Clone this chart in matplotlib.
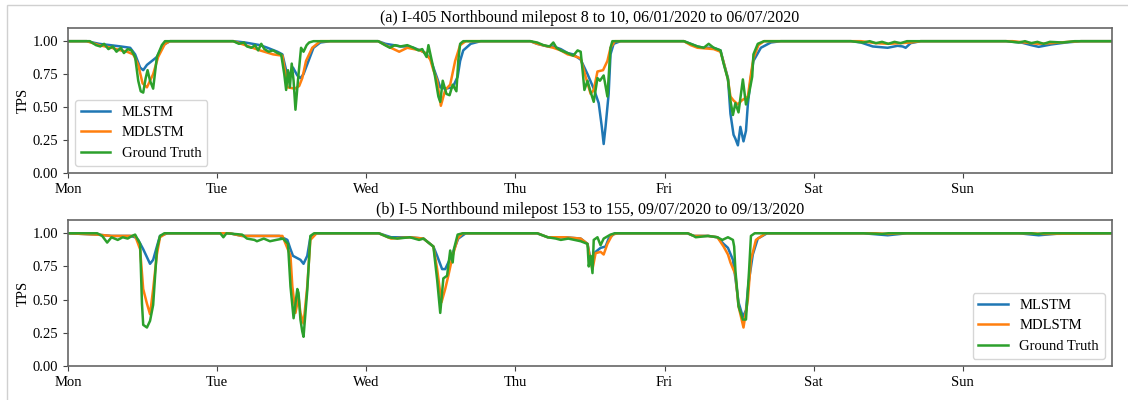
import matplotlib
matplotlib.use("Agg")
import matplotlib.pyplot as plt
from matplotlib.patches import Rectangle

plt.rcParams['font.family'] = ['Liberation Serif', 'DejaVu Serif']

# x axis: hours since Monday 00:00
day_labels = ['Mon', 'Tue', 'Wed', 'Thu', 'Fri', 'Sat', 'Sun']
day_hours = [0, 24, 48, 72, 96, 120, 144]
tps_ticks = [0.00, 0.25, 0.50, 0.75, 1.00]

titles = ['(a) I-405 Northbound milepost 8 to 10, 06/01/2020 to 06/07/2020',
          '(b) I-5 Northbound milepost 153 to 155, 09/07/2020 to 09/13/2020']

# ---- panel (a) ----
a_hours_mlstm = [0, 3.0, 5, 6.8, 8.5, 10, 10.8, 11.6, 12.1, 12.7, 13.5, 14.3, 15.3, 16.4,
                 26.6, 28.5, 30.9, 32.1, 33.7, 34.5, 35.0, 35.3, 35.8, 36.2, 36.9, 37.4, 37.9, 38.7, 39.5, 40.6, 42.2,
                 49.9, 51.1, 52.4, 53.5, 54.6, 55.6, 56.7, 57.5, 58.3, 58.8, 59.4, 59.9, 60.7, 61.9, 62.7, 63.1, 63.6, 64.8, 66.4,
                 74.4, 75.5, 77.2, 78.1, 79.3, 80.4, 81.3, 82.5, 83.6, 84.6, 85.4, 85.9, 86.2, 86.5, 87.0, 87.3, 87.8, 88.9,
                 99.1, 100.2, 101.3, 102.3, 103.9, 105.0, 105.5, 106.2, 106.6, 107.1, 107.4, 107.8, 108.2, 108.7, 109.1, 109.4, 109.9, 110.3, 111.5, 113.1, 114.7,
                 126.0, 127.6, 129.5, 131.9, 133.5, 134.3, 134.8, 135.6, 137.2,
                 150.9, 153.4, 155.0, 156.2, 158.2, 160.6, 163.0, 168]
a_tps_mlstm = [1.0, 1.0, 0.98, 0.97, 0.96, 0.95, 0.90, 0.80, 0.78, 0.82, 0.85, 0.88, 0.97, 1.0,
               1.0, 0.99, 0.97, 0.95, 0.92, 0.90, 0.80, 0.74, 0.76, 0.80, 0.74, 0.72, 0.75, 0.85, 0.95, 0.99, 1.0,
               1.0, 0.98, 0.97, 0.96, 0.96, 0.95, 0.93, 0.91, 0.87, 0.80, 0.72, 0.65, 0.64, 0.65, 0.73, 0.85, 0.93, 0.98, 1.0,
               1.0, 0.98, 0.96, 0.96, 0.94, 0.91, 0.90, 0.86, 0.75, 0.64, 0.53, 0.35, 0.22, 0.35, 0.60, 0.90, 0.98, 1.0,
               1.0, 0.98, 0.96, 0.95, 0.95, 0.93, 0.84, 0.72, 0.45, 0.29, 0.26, 0.21, 0.35, 0.24, 0.32, 0.52, 0.73, 0.85, 0.95, 0.99, 1.0,
               1.0, 0.99, 0.96, 0.95, 0.965, 0.96, 0.95, 0.985, 1.0,
               1.0, 0.99, 0.97, 0.957, 0.975, 0.99, 1.0, 1.0]

a_hours_mdlstm = [0, 3, 5, 7, 8.5, 9.5, 10.5, 11.3, 12.0, 12.7, 13.2, 13.7, 14.5, 15.6, 16.4,
                  26.6, 28.5, 30.9, 33.0, 34.5, 35.0, 35.3, 36.5, 37.2, 37.7, 38.3, 39.3, 40.6,
                  49.9, 51.5, 53.3, 54.6, 56.7, 57.5, 58.3, 58.8, 59.4, 60.0, 60.7, 61.5, 62.3, 63.1, 64.0,
                  74.4, 75.5, 77.2, 78.1, 79.3, 80.4, 81.3, 82.5, 83.3, 84.1, 84.6, 85.2, 86.1, 86.8, 87.3, 88.0,
                  99.1, 100.2, 101.3, 103.9, 105.0, 105.5, 106.2, 106.6, 107.1, 107.8, 108.4, 109.4, 109.9, 110.3, 111.1, 112.0,
                  127.6, 130.0, 132, 134, 135.6, 137.2,
                  152, 155, 156.2, 158.2, 161, 163, 168]
a_tps_mdlstm = [1.0, 1.0, 0.97, 0.95, 0.93, 0.92, 0.90, 0.82, 0.68, 0.65, 0.70, 0.75, 0.88, 0.98, 1.0,
                1.0, 0.97, 0.93, 0.90, 0.89, 0.75, 0.65, 0.64, 0.66, 0.72, 0.85, 0.95, 1.0,
                1.0, 0.96, 0.92, 0.95, 0.93, 0.91, 0.86, 0.78, 0.70, 0.51, 0.63, 0.67, 0.85, 0.97, 1.0,
                1.0, 0.98, 0.96, 0.95, 0.93, 0.90, 0.89, 0.87, 0.73, 0.60, 0.63, 0.77, 0.78, 0.85, 0.95, 1.0,
                1.0, 0.97, 0.95, 0.94, 0.92, 0.84, 0.71, 0.58, 0.55, 0.52, 0.55, 0.58, 0.75, 0.87, 0.97, 1.0,
                1.0, 0.985, 0.98, 0.985, 0.99, 1.0,
                1.0, 0.985, 0.98, 0.985, 0.995, 1.0, 1.0]

a_hours_truth = [0, 3.5, 4.5, 5.2, 5.8, 6.5, 7.2, 7.8, 8.5, 9.0, 9.6, 10.2, 10.8, 11.3, 11.7, 12.1, 12.5, 12.8, 13.2, 13.7, 14.3, 15.1, 15.6,
                 26.6, 27.5, 28.3, 28.8, 29.5, 30.1, 30.6, 31.1, 31.6, 32.3, 33.0, 33.7, 34.3, 34.8, 35.1, 35.4, 35.7, 36.0, 36.3, 36.6, 37.0, 37.5, 37.9, 38.4, 38.8, 39.5,
                 49.9, 51.0, 51.8, 52.6, 53.5, 54.6, 55.6, 56.4, 57.0, 57.7, 58.0, 58.5, 59.0, 59.6, 59.9, 60.3, 60.9, 61.4, 61.9, 62.5, 62.8, 63.1, 63.6,
                 74.4, 75.5, 76.5, 77.5, 78.1, 78.6, 79.3, 80.4, 81.3, 82.0, 82.5, 82.8, 83.1, 83.6, 84.0, 84.6, 85.2, 85.6, 86.2, 86.8, 87.3, 87.6,
                 99.1, 100.2, 101.3, 102.3, 103.1, 103.9, 105.0, 105.5, 106.2, 106.6, 107.0, 107.4, 107.9, 108.6, 109.1, 109.5, 110.1, 110.3, 111.0, 112.0,
                 126, 128, 129, 130, 131, 132, 133, 134, 135,
                 151, 153, 154, 155, 156, 157, 158, 160, 162, 168]
a_tps_truth = [1.0, 1.0, 0.97, 0.96, 0.98, 0.94, 0.96, 0.92, 0.95, 0.91, 0.94, 0.93, 0.88, 0.70, 0.62, 0.61, 0.72, 0.78, 0.70, 0.64, 0.88, 0.97, 1.0,
               1.0, 0.98, 0.99, 0.96, 0.95, 0.97, 0.93, 0.98, 0.94, 0.92, 0.93, 0.91, 0.90, 0.75, 0.63, 0.78, 0.65, 0.83, 0.70, 0.48, 0.70, 0.95, 0.92, 0.97, 0.99, 1.0,
               1.0, 0.97, 0.95, 0.97, 0.96, 0.97, 0.95, 0.93, 0.94, 0.88, 0.97, 0.86, 0.75, 0.58, 0.54, 0.70, 0.60, 0.59, 0.67, 0.62, 0.85, 0.98, 1.0,
               1.0, 0.99, 0.97, 0.96, 0.99, 0.95, 0.93, 0.91, 0.89, 0.93, 0.92, 0.78, 0.63, 0.70, 0.63, 0.54, 0.72, 0.70, 0.74, 0.58, 0.95, 1.0,
               1.0, 0.98, 0.96, 0.95, 0.98, 0.95, 0.93, 0.83, 0.71, 0.55, 0.44, 0.53, 0.46, 0.71, 0.52, 0.58, 0.73, 0.90, 0.98, 1.0,
               1.0, 0.99, 1.0, 0.985, 0.995, 0.98, 0.995, 0.985, 1.0,
               1.0, 0.99, 1.0, 0.985, 0.995, 0.98, 0.995, 0.99, 1.0, 1.0]

# ---- panel (b) ----
b_hours_mlstm = [0, 4.7, 7, 10.0, 10.8, 11.3, 12.1, 13.2, 13.7, 14.3, 14.8, 16,
                 26, 28, 34.0, 35.3, 35.8, 36.2, 37.4, 37.9, 38.5, 39.0, 40,
                 50, 52.0, 55, 57.2, 58.8, 59.4, 60.2, 60.7, 61.2, 61.9, 62.3, 62.8, 64,
                 75.5, 77.2, 80, 82.5, 83.6, 84.1, 84.9, 85.7, 86.5, 87.0, 88,
                 99.7, 100.7, 103.0, 104.5, 105.5, 106.2, 107.0, 107.4, 107.9, 108.6, 109.1, 109.5, 110.2, 111.0, 112.5,
                 128, 131.9, 135, 153, 156.2, 160, 168]
b_tps_mlstm = [1.0, 0.99, 0.98, 0.98, 0.97, 0.95, 0.88, 0.77, 0.80, 0.90, 0.98, 1.0,
               1.0, 0.98, 0.98, 0.95, 0.88, 0.83, 0.80, 0.77, 0.83, 0.97, 1.0,
               1.0, 0.97, 0.97, 0.96, 0.90, 0.83, 0.73, 0.73, 0.78, 0.85, 0.90, 0.96, 1.0,
               1.0, 0.97, 0.97, 0.96, 0.92, 0.80, 0.86, 0.89, 0.90, 0.96, 1.0,
               1.0, 0.98, 0.98, 0.97, 0.92, 0.89, 0.80, 0.66, 0.48, 0.37, 0.42, 0.62, 0.84, 0.96, 1.0,
               1.0, 0.985, 1.0, 1.0, 0.985, 1.0, 1.0]

b_hours_mdlstm = [0, 4.7, 7, 10.8, 11.6, 12.1, 12.7, 13.2, 13.7, 14.3, 14.8, 15.8,
                  26, 28, 34.5, 35.8, 36.1, 36.6, 37.1, 37.4, 37.9, 38.5, 39.0, 40,
                  50, 52.0, 55, 57.2, 58.8, 59.4, 60.1, 60.7, 61.2, 61.9, 62.7, 63.5,
                  75.5, 77.2, 80, 82.5, 83.6, 84.1, 84.4, 84.9, 85.7, 86.2, 86.8, 87.6, 88.5,
                  99.7, 100.7, 103, 104.5, 105.5, 106.2, 106.6, 107.4, 107.9, 108.7, 109.4, 109.9, 110.7, 112.3,
                  130, 132, 134, 155, 157, 168]
b_tps_mdlstm = [1.0, 0.99, 0.98, 0.98, 0.88, 0.58, 0.47, 0.39, 0.58, 0.84, 0.97, 1.0,
                1.0, 0.98, 0.98, 0.83, 0.60, 0.40, 0.52, 0.40, 0.32, 0.60, 0.95, 1.0,
                1.0, 0.96, 0.97, 0.96, 0.90, 0.73, 0.48, 0.58, 0.68, 0.83, 0.96, 1.0,
                1.0, 0.97, 0.97, 0.96, 0.92, 0.78, 0.73, 0.85, 0.86, 0.84, 0.92, 0.99, 1.0,
                1.0, 0.98, 0.98, 0.97, 0.90, 0.84, 0.78, 0.69, 0.45, 0.29, 0.50, 0.80, 0.95, 1.0,
                1.0, 0.995, 1.0, 1.0, 0.995, 1.0]

b_hours_truth = [0, 4.7, 5.5, 6.3, 7, 8, 8.8, 9.6, 10.3, 10.8, 11.6, 11.9, 12.1, 12.7, 13.2, 13.7, 14.3, 14.8, 15.5,
                 24.5, 25.0, 25.5, 28, 28.8, 30, 30.4, 31.5, 32.5, 33.5, 34.6, 35.4, 35.8, 36.3, 36.9, 37.1, 37.4, 37.7, 37.9, 38.5, 39.0, 39.6,
                 50, 51.5, 53, 55, 56.5, 57.2, 58.8, 59.4, 59.9, 60.4, 61.0, 61.5, 61.9, 62.1, 62.7, 63.5,
                 75.5, 77.2, 78.5, 79.3, 80.5, 82.5, 83.6, 83.8, 84.1, 84.4, 84.6, 85.2, 85.7, 86.2, 87.3, 88.0,
                 99.7, 100.7, 101.0, 103, 104.5, 105.3, 106.2, 107.0, 107.2, 107.4, 107.9, 108.6, 109.1, 109.6, 109.9, 110.5,
                 128, 131, 132, 133, 155, 156, 157, 168]
b_tps_truth = [1.0, 1.0, 0.98, 0.93, 0.97, 0.95, 0.97, 0.96, 0.98, 0.99, 0.92, 0.47, 0.31, 0.29, 0.34, 0.46, 0.88, 0.98, 1.0,
               1.0, 0.97, 1.0, 0.99, 0.96, 0.95, 0.94, 0.96, 0.94, 0.95, 0.96, 0.92, 0.60, 0.36, 0.58, 0.55, 0.35, 0.26, 0.22, 0.57, 0.98, 1.0,
               1.0, 0.97, 0.96, 0.97, 0.95, 0.96, 0.90, 0.65, 0.40, 0.66, 0.68, 0.87, 0.78, 0.88, 0.99, 1.0,
               1.0, 0.97, 0.96, 0.95, 0.96, 0.94, 0.92, 0.75, 0.83, 0.70, 0.95, 0.97, 0.91, 0.96, 0.99, 1.0,
               1.0, 0.98, 0.97, 0.98, 0.97, 0.95, 0.97, 0.95, 0.90, 0.72, 0.45, 0.35, 0.35, 0.72, 0.98, 1.0,
               1.0, 0.995, 1.0, 1.0, 1.0, 0.995, 1.0, 1.0]

panels = [
    (a_hours_mlstm, a_tps_mlstm, a_hours_mdlstm, a_tps_mdlstm, a_hours_truth, a_tps_truth, 'lower left'),
    (b_hours_mlstm, b_tps_mlstm, b_hours_mdlstm, b_tps_mdlstm, b_hours_truth, b_tps_truth, 'lower right'),
]

fig = plt.figure(figsize=(11.28, 4.0), dpi=100)
# thin grey frame around the figure, as in the scanned original
fig.patches.append(Rectangle((7 / 1128, -0.1), 1.2, 1.1 - 5 / 400, transform=fig.transFigure,
                             fill=False, edgecolor='#d0d0d0', linewidth=1.0))
axes = [fig.add_axes([0.0603, 0.5675, 0.9255, 0.3625]),
        fig.add_axes([0.0603, 0.085, 0.9255, 0.365])]

for ax, (h1, v1, h2, v2, h3, v3, loc), title in zip(axes, panels, titles):
    ax.plot(h1, v1, color='#1f77b4', lw=1.8, label='MLSTM')
    ax.plot(h2, v2, color='#ff7f0e', lw=1.8, label='MDLSTM')
    ax.plot(h3, v3, color='#2ca02c', lw=1.8, label='Ground Truth')
    ax.set_xlim(0, 168)
    ax.set_ylim(0, 1.1)
    ax.set_xticks(day_hours)
    ax.set_xticklabels(day_labels)
    ax.set_yticks(tps_ticks)
    ax.set_yticklabels([f'{t:.2f}' for t in tps_ticks])
    ax.set_ylabel('TPS', fontsize=10.5, labelpad=2)
    ax.set_title(title, fontsize=11.5, pad=4)
    ax.tick_params(labelsize=10.5, length=3.5, color='#444444')
    for s in ax.spines.values():
        s.set_color('#666666')
        s.set_linewidth(1.2)
    ax.legend(loc=loc, fontsize=10.5, framealpha=0.8)

fig.savefig('out.png', dpi=100)
